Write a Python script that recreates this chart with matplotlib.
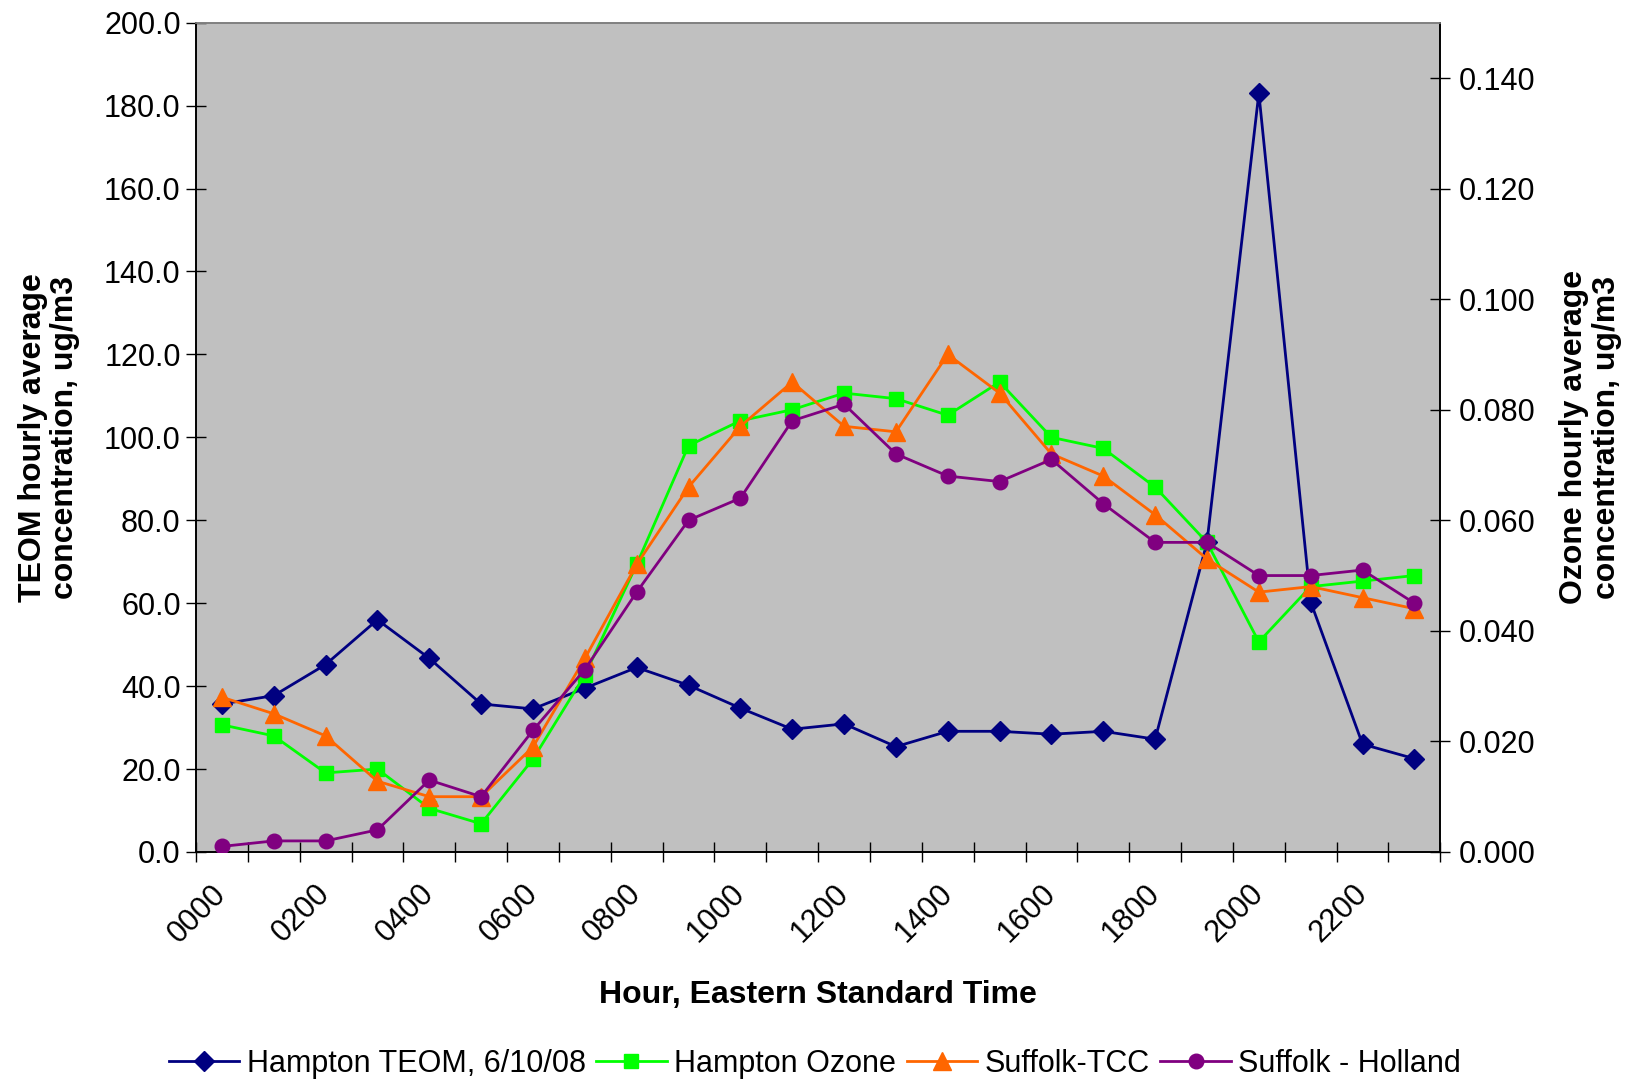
import matplotlib
matplotlib.use("Agg")
import matplotlib.pyplot as plt
from matplotlib.ticker import FixedLocator, FuncFormatter
import numpy as np

plt.rcParams['font.family'] = ['Liberation Sans', 'DejaVu Sans']

hours = ["0000", "0100", "0200", "0300", "0400", "0500", "0600", "0700",
         "0800", "0900", "1000", "1100", "1200", "1300", "1400", "1500",
         "1600", "1700", "1800", "1900", "2000", "2100", "2200", "2300"]

teom = [35.7, 37.7, 45.2, 56.0, 46.7, 35.7, 34.5, 39.5, 44.5, 40.2, 34.7, 29.6,
        30.9, 25.4, 29.1, 29.1, 28.4, 29.1, 27.2, 74.7, 183.0, 60.3, 26.0, 22.5]

hampton_ozone = [0.023, 0.021, 0.0143, 0.015, 0.0079, 0.0051, 0.0168, 0.032,
                 0.052, 0.0735, 0.078, 0.080, 0.083, 0.082, 0.079, 0.085,
                 0.075, 0.073, 0.066, 0.056, 0.038, 0.048, 0.049, 0.050]

suffolk_tcc = [0.028, 0.025, 0.021, 0.0128, 0.010, 0.010, 0.019, 0.035,
               0.052, 0.066, 0.077, 0.085, 0.077, 0.076, 0.090, 0.083,
               0.072, 0.068, 0.061, 0.053, 0.047, 0.048, 0.046, 0.044]

suffolk_holland = [0.001, 0.002, 0.002, 0.004, 0.013, 0.010, 0.022, 0.033,
                   0.047, 0.060, 0.064, 0.078, 0.081, 0.072, 0.068, 0.067,
                   0.071, 0.063, 0.056, 0.056, 0.050, 0.050, 0.051, 0.045]

labels = ["Hampton TEOM, 6/10/08", "Hampton Ozone", "Suffolk-TCC", "Suffolk - Holland"]

W, H = 1633, 1082
fig = plt.figure(figsize=(W / 100, H / 100), dpi=100)
fig.patch.set_facecolor('white')
pos = [0.120, 0.2126, 0.762, 0.7664]
ax = fig.add_axes(pos)
ax.set_facecolor('#C0C0C0')
ax2 = ax.twinx()
ax.set_position(pos)
ax2.set_position(pos)

x = np.arange(len(hours))
FS = 22
TFS = 23

l1, = ax.plot(x, teom, color='#000080', marker='D', markersize=10, lw=2.0,
              label=labels[0], zorder=3)
l2, = ax2.plot(x, hampton_ozone, color='#00FF00', marker='s', markersize=10.5,
               lw=2.0, label=labels[1], zorder=3)
l3, = ax2.plot(x, suffolk_tcc, color='#FF6600', marker='^', markersize=12.5,
               lw=2.0, label=labels[2], zorder=4)
l4, = ax2.plot(x, suffolk_holland, color='#800080', marker='o', markersize=10.5,
               lw=2.0, label=labels[3], zorder=5)

ax.set_xlim(-0.5, len(hours) - 0.5)
ax.set_ylim(0, 200)
ax2.set_ylim(0, 0.150)

ax.yaxis.set_major_locator(FixedLocator(np.arange(0, 201, 20)))
ax.yaxis.set_major_formatter(FuncFormatter(lambda v, p: f"{v:.1f}"))
ax2.yaxis.set_major_locator(FixedLocator(np.arange(0, 0.1401, 0.02)))
ax2.yaxis.set_major_formatter(FuncFormatter(lambda v, p: f"{v:.3f}"))

ax.set_xticks(np.arange(-0.5, len(hours), 1.0))
ax.set_xticklabels([])
ax.set_xticks(x[::2], minor=True)
ax.set_xticklabels(hours[::2], minor=True, rotation=45, ha='right', va='center',
                   rotation_mode='anchor', fontsize=FS)
ax.tick_params(axis='x', which='minor', length=0, pad=27)
ax.tick_params(axis='x', which='major', direction='inout', length=14, width=1,
               color='#000000')
ax.tick_params(axis='y', direction='inout', length=14, width=1, labelsize=FS,
               pad=4)
ax2.tick_params(axis='y', direction='inout', length=14, width=1, labelsize=FS,
                pad=6)

for a in (ax, ax2):
    for s in a.spines.values():
        s.set_color('#808080')
        s.set_linewidth(1.2)
    a.spines['left'].set_color('#000000')
    a.spines['bottom'].set_color('#000000')
    a.spines['right'].set_color('#000000')
ax2.patch.set_visible(False)

fig.text(0.030, 0.596, "TEOM hourly average\nconcentration, ug/m3", rotation=90,
         ha='center', va='center', fontsize=TFS, fontweight='bold', linespacing=1.1)
fig.text(0.974, 0.596, "Ozone hourly average\nconcentration, ug/m3", rotation=90,
         ha='center', va='center', fontsize=TFS, fontweight='bold', linespacing=1.1)
fig.text(0.501, 0.080, "Hour, Eastern Standard Time", ha='center', va='center',
         fontsize=TFS, fontweight='bold')

leg = fig.legend(handles=[l1, l2, l3, l4], labels=labels, loc='center',
                 bbox_to_anchor=(0.499, 0.0165), ncol=4, frameon=False,
                 fontsize=FS, handlelength=2.3, handletextpad=0.25,
                 columnspacing=0.35, borderaxespad=0)

fig.savefig("out.png", dpi=100)
